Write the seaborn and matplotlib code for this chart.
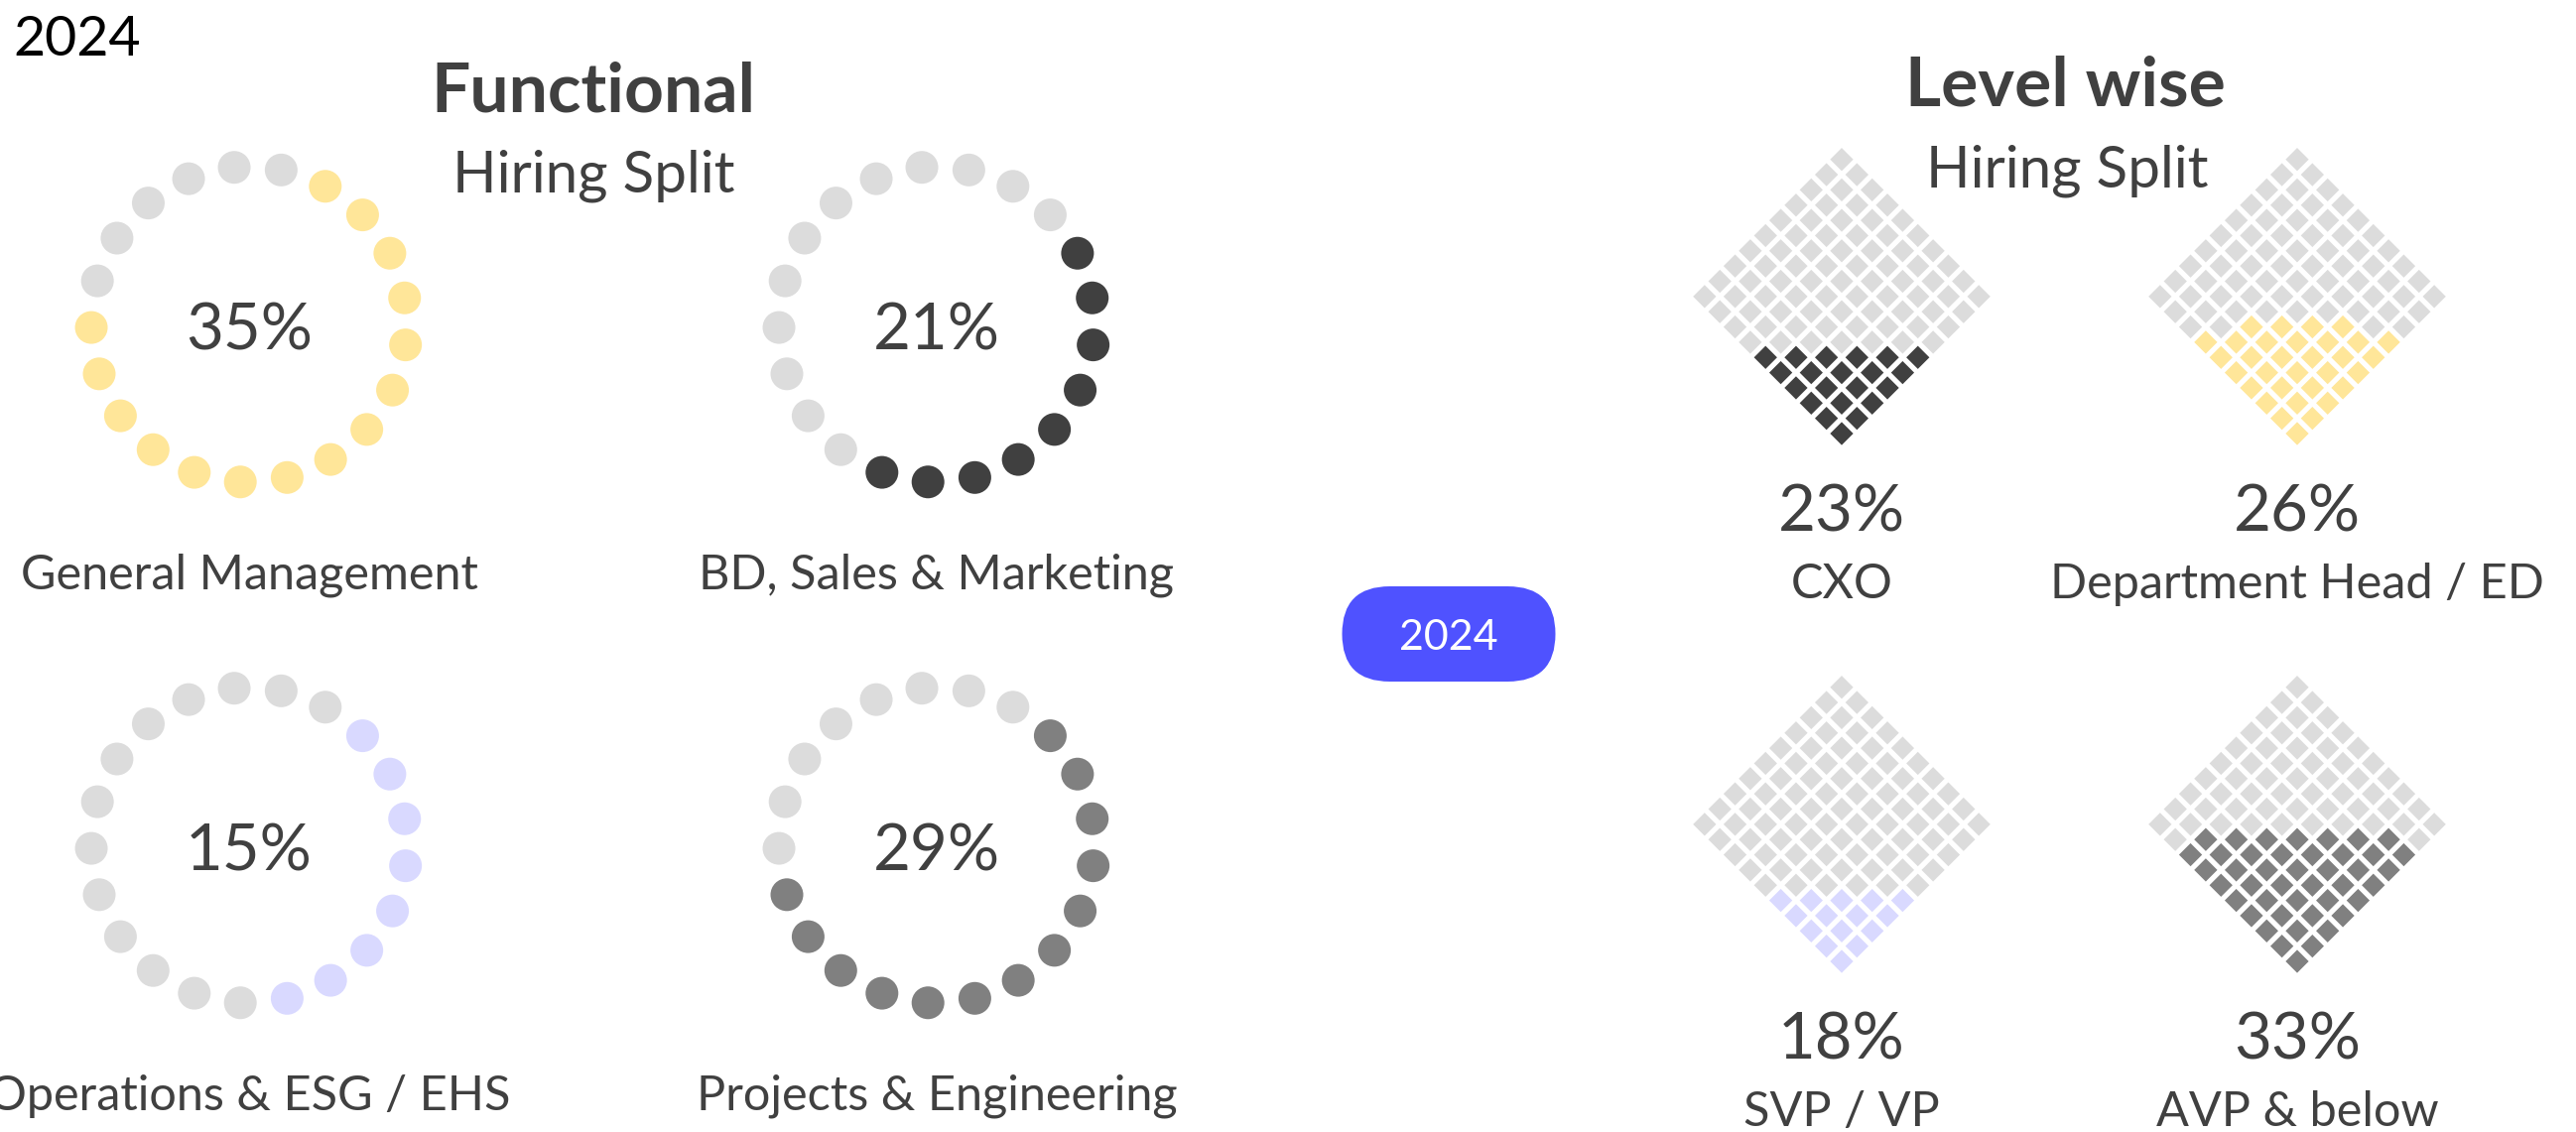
import numpy as np
import pandas as pd
import matplotlib
matplotlib.use("Agg")
import matplotlib.pyplot as plt
from matplotlib.path import Path
from matplotlib.patches import FancyBboxPatch
import seaborn as sns

# ---------------- data ----------------
year_label = "2024"
functional_title = "Functional"
level_title = "Level wise"
subtitle = "Hiring Split"

functional_categories = ["General Management", "BD, Sales & Marketing",
                         "Operations & ESG / EHS", "Projects & Engineering"]
functional_pct = [35, 21, 15, 29]
functional_dot_start = [2, 4, 3, 3]      # index of first coloured dot (of 21)
functional_dot_count = [15, 9, 8, 13]    # number of coloured dots
functional_colors = ["#FFE699", "#404040", "#D9D9FF", "#808080"]

level_categories = ["CXO", "Department Head / ED", "SVP / VP", "AVP & below"]
level_pct = [23, 26, 18, 33]
level_cells = [21, 32, 15, 43]           # coloured cells out of 10x10 grid
level_colors = ["#404040", "#FFE699", "#D9D9FF", "#808080"]

EMPTY = "#DCDCDC"
TEXT = "#404040"
BUTTON = "#4F52FF"

# ---------------- figure ----------------
sns.set_theme(style="white")
plt.rcParams["font.family"] = ["Lato", "DejaVu Sans"]

W, H = 2596, 1141
fig = plt.figure(figsize=(W / 100, H / 100), dpi=100)
ax = fig.add_axes([0, 0, 1, 1])
ax.set_xlim(0, W)
ax.set_ylim(H, 0)
ax.axis("off")

# ---- rings of dots ----
ring_centers = [(251, 327), (944, 327), (251, 852), (944, 852)]
ring_r = 159
n_dots = 21
step = 360 / n_dots
offset = -5.4
dot_px = 33
for i, (cx, cy) in enumerate(ring_centers):
    k = np.arange(n_dots)
    ang = np.deg2rad(offset + k * step)
    on = (k >= functional_dot_start[i]) & (k < functional_dot_start[i] + functional_dot_count[i])
    df = pd.DataFrame({
        "x": cx + ring_r * np.sin(ang),
        "y": cy - ring_r * np.cos(ang),
        "state": np.where(on, "on", "off"),
    })
    sns.scatterplot(data=df, x="x", y="y", hue="state",
                    palette={"on": functional_colors[i], "off": EMPTY},
                    s=(dot_px * 0.72) ** 2, linewidth=0, legend=False, ax=ax,
                    zorder=2)
    ax.text(cx, cy + 7, f"{functional_pct[i]}%", ha="center", va="center",
            fontsize=47, color=TEXT)
    ax.text(cx, cy + 253, functional_categories[i], ha="center", va="center",
            fontsize=35, color=TEXT)

# ---- diamond waffles ----
diamond_centers = [(1856, 437), (2315, 437), (1856, 969), (2315, 969)]  # bottom cell centre
cell_step = 15.35
cell_diag = 23.3
diamond_marker = Path([(0, 1), (1, 0), (0, -1), (-1, 0), (0, 1)],
                      [Path.MOVETO, Path.LINETO, Path.LINETO, Path.LINETO, Path.CLOSEPOLY])
ii, jj = np.meshgrid(np.arange(10), np.arange(10), indexing="ij")
ii, jj = ii.ravel(), jj.ravel()
order = np.lexsort((np.abs(ii - jj), ii + jj))
for i, (bx, by) in enumerate(diamond_centers):
    state = np.array(["off"] * 100, dtype=object)
    state[order[:level_cells[i]]] = "on"
    df = pd.DataFrame({
        "x": bx + (ii - jj) * cell_step,
        "y": by - (ii + jj) * cell_step,
        "state": state,
    })
    sns.scatterplot(data=df, x="x", y="y", hue="state",
                    palette={"on": level_colors[i], "off": EMPTY},
                    marker=diamond_marker, s=(cell_diag * 0.72) ** 2,
                    linewidth=0, legend=False, ax=ax, zorder=2)
    ax.text(bx, by + 80, f"{level_pct[i]}%", ha="center", va="center",
            fontsize=47, color=TEXT)
    ax.text(bx, by + 152, level_categories[i], ha="center", va="center",
            fontsize=35, color=TEXT)

# ---- titles ----
ax.text(13, 40, year_label, ha="left", va="center", fontsize=40, color="black")
ax.text(598, 93, functional_title, ha="center", va="center", fontsize=50,
        fontweight="bold", color=TEXT)
ax.text(598, 177, subtitle, ha="center", va="center", fontsize=42, color=TEXT)
ax.text(2081, 87, level_title, ha="center", va="center", fontsize=50,
        fontweight="bold", color=TEXT)
ax.text(2083, 172, subtitle, ha="center", va="center", fontsize=42, color=TEXT)

# ---- year button ----
bw, bh = 215, 96
btn = FancyBboxPatch((1460 - bw / 2, 639 - bh / 2), bw, bh,
                     boxstyle=f"round,pad=0,rounding_size={bh / 2}",
                     facecolor=BUTTON, edgecolor="none", zorder=3)
ax.add_patch(btn)
ax.text(1460, 643, year_label, ha="center", va="center", fontsize=31,
        color="white", zorder=4)

fig.savefig("out.png", dpi=100)
